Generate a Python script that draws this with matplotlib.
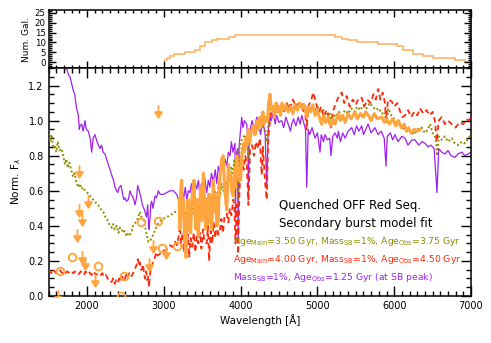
import matplotlib
matplotlib.use("Agg")
import matplotlib.pyplot as plt
from matplotlib.path import Path
from matplotlib.ticker import MultipleLocator

# ---------------- data ----------------
hist_edges = [3000, 3043, 3087, 3130, 3281, 3411, 3476, 3541, 3628, 3693, 3844, 3931,
              5229, 5316, 5403, 5511, 5792, 6030, 6117, 6247, 6377, 6506, 6788, 6918, 7000]
hist_counts = [1, 2, 3, 4, 5, 6, 8, 10, 11, 12, 13, 14, 13, 12, 11, 10, 9, 8, 6, 4, 3, 2, 1, 0]

purple_wl = [1500, 1510, 1530, 1600, 1680, 1713, 1740, 1760, 1779, 1800, 1822, 1840, 1860, 1887,
             1900, 1910, 1931, 1950, 1974, 1990, 2017, 2040, 2061, 2080, 2104, 2130, 2150, 2169,
             2190, 2210, 2234, 2255, 2278, 2300, 2321, 2345, 2365, 2385, 2400, 2420, 2443, 2465,
             2480, 2495, 2515, 2538, 2560, 2575, 2590, 2610, 2625, 2645, 2660, 2680, 2703, 2720,
             2740, 2755, 2775, 2790, 2800, 2807, 2820, 2830, 2842, 2860, 2885, 2905, 2929, 2950,
             2972, 3000, 3038, 3081, 3124, 3168, 3200, 3220, 3240, 3260, 3280, 3300, 3320, 3341,
             3360, 3380, 3400, 3428, 3450, 3470, 3490, 3510, 3530, 3559, 3580, 3600, 3620, 3645,
             3670, 3690, 3710, 3732, 3750, 3775, 3797, 3820, 3840, 3862, 3880, 3900, 3927, 3934,
             3940, 3960, 3968, 3980, 4000, 4014, 4030, 4050, 4079, 4095, 4102, 4110, 4130, 4150,
             4180, 4210, 4240, 4260, 4280, 4297, 4320, 4340, 4360, 4383, 4400, 4426, 4450, 4470,
             4500, 4535, 4560, 4590, 4620, 4650, 4665, 4690, 4720, 4750, 4775, 4796, 4820, 4845,
             4861, 4880, 4900, 4930, 4969, 5000, 5034, 5050, 5080, 5099, 5130, 5160, 5177, 5200,
             5230, 5260, 5273, 5300, 5330, 5360, 5400, 5447, 5480, 5510, 5540, 5577, 5600, 5630,
             5660, 5700, 5750, 5790, 5830, 5870, 5893, 5910, 5950, 5980, 6010, 6050, 6100, 6140,
             6180, 6230, 6271, 6320, 6360, 6401, 6440, 6480, 6520, 6557, 6580, 6620, 6661, 6700,
             6740, 6791, 6830, 6879, 6920, 6960, 7000]
purple_flux = [1.22, 1.30, 1.40, 1.45, 1.38, 1.30, 1.29, 1.26, 1.25, 1.21, 1.17, 1.15, 1.08, 1.03,
               0.95, 0.97, 0.98, 0.94, 1.00, 0.95, 0.94, 0.90, 0.82, 0.90, 0.92, 0.88, 0.86, 0.84,
               0.86, 0.82, 0.81, 0.78, 0.75, 0.72, 0.69, 0.66, 0.62, 0.60, 0.59, 0.62, 0.63, 0.58,
               0.55, 0.56, 0.54, 0.55, 0.60, 0.58, 0.57, 0.55, 0.52, 0.56, 0.63, 0.60, 0.56, 0.52,
               0.50, 0.48, 0.45, 0.52, 0.42, 0.38, 0.44, 0.52, 0.54, 0.50, 0.57, 0.56, 0.60, 0.58,
               0.58, 0.58, 0.59, 0.60, 0.60, 0.58, 0.54, 0.52, 0.60, 0.56, 0.62, 0.55, 0.60, 0.59,
               0.64, 0.58, 0.65, 0.61, 0.66, 0.58, 0.64, 0.60, 0.68, 0.59, 0.66, 0.62, 0.70, 0.65,
               0.72, 0.64, 0.74, 0.70, 0.77, 0.72, 0.78, 0.74, 0.82, 0.80, 0.88, 0.82, 0.87, 0.45,
               0.80, 0.84, 0.32, 0.85, 0.95, 1.02, 0.96, 1.00, 0.98, 0.90, 0.55, 0.90, 0.96, 1.00,
               0.95, 1.02, 0.97, 0.92, 0.98, 0.98, 0.92, 0.62, 0.95, 1.02, 1.00, 1.05, 0.98, 1.03,
               0.99, 1.00, 0.96, 1.02, 0.98, 0.94, 0.98, 1.01, 0.97, 1.02, 0.98, 1.03, 0.99, 0.95,
               0.62, 0.95, 0.92, 0.96, 0.90, 0.93, 0.82, 0.92, 0.88, 0.92, 0.89, 0.90, 0.80, 0.91,
               0.93, 0.90, 0.94, 0.88, 0.93, 0.90, 0.94, 0.96, 0.92, 0.97, 0.94, 0.97, 0.92, 0.95,
               0.98, 0.93, 0.96, 0.92, 0.94, 0.90, 0.74, 0.91, 0.93, 0.89, 0.92, 0.88, 0.91, 0.90,
               0.86, 0.89, 0.89, 0.86, 0.88, 0.87, 0.85, 0.86, 0.84, 0.59, 0.84, 0.82, 0.81, 0.83,
               0.80, 0.79, 0.81, 0.82, 0.80, 0.81, 0.82]

olive_wl = [1500, 1520, 1540, 1560, 1583, 1600, 1620, 1640, 1670, 1690, 1713, 1730, 1750, 1770,
            1800, 1820, 1840, 1860, 1887, 1910, 1930, 1950, 1974, 2000, 2020, 2040, 2061, 2080,
            2100, 2120, 2147, 2170, 2190, 2212, 2240, 2260, 2278, 2300, 2321, 2340, 2360, 2386,
            2410, 2430, 2452, 2470, 2490, 2517, 2540, 2560, 2582, 2600, 2620, 2634, 2660, 2690,
            2710, 2734, 2755, 2777, 2800, 2820, 2840, 2864, 2890, 2910, 2929, 2960, 2994, 3040,
            3081, 3120, 3146, 3180, 3211, 3230, 3250, 3270, 3290, 3310, 3330, 3350, 3370, 3390,
            3410, 3430, 3450, 3470, 3490, 3515, 3540, 3560, 3580, 3600, 3620, 3645, 3670, 3690,
            3710, 3732, 3750, 3775, 3800, 3819, 3840, 3862, 3880, 3900, 3920, 3934, 3950, 3968,
            3985, 4000, 4030, 4057, 4080, 4102, 4120, 4150, 4180, 4210, 4240, 4270, 4300, 4320,
            4340, 4360, 4383, 4410, 4440, 4470, 4500, 4530, 4560, 4600, 4640, 4680, 4720, 4760,
            4800, 4840, 4861, 4880, 4920, 4960, 5000, 5040, 5080, 5120, 5160, 5177, 5200, 5240,
            5280, 5320, 5360, 5400, 5440, 5480, 5520, 5560, 5600, 5640, 5680, 5720, 5760, 5800,
            5840, 5880, 5893, 5923, 5960, 6000, 6040, 6062, 6100, 6140, 6184, 6220, 6260, 6300,
            6358, 6400, 6440, 6466, 6500, 6540, 6560, 6580, 6620, 6660, 6700, 6749, 6790, 6835,
            6880, 6920, 6965, 7000]
olive_flux = [0.95, 0.88, 0.92, 0.84, 0.86, 0.82, 0.88, 0.83, 0.84, 0.80, 0.75, 0.78, 0.73, 0.76,
              0.71, 0.68, 0.70, 0.65, 0.62, 0.64, 0.61, 0.62, 0.60, 0.59, 0.58, 0.57, 0.56, 0.55,
              0.54, 0.53, 0.52, 0.50, 0.49, 0.48, 0.45, 0.44, 0.42, 0.40, 0.39, 0.41, 0.38, 0.40,
              0.36, 0.39, 0.38, 0.36, 0.37, 0.34, 0.36, 0.35, 0.37, 0.40, 0.41, 0.42, 0.44, 0.48,
              0.45, 0.44, 0.40, 0.35, 0.31, 0.31, 0.33, 0.35, 0.38, 0.40, 0.415, 0.43, 0.44, 0.45,
              0.46, 0.47, 0.48, 0.47, 0.47, 0.44, 0.52, 0.46, 0.48, 0.53, 0.45, 0.51, 0.55, 0.47,
              0.52, 0.46, 0.53, 0.49, 0.55, 0.49, 0.56, 0.50, 0.58, 0.52, 0.57, 0.54, 0.60, 0.55,
              0.62, 0.57, 0.64, 0.60, 0.66, 0.62, 0.70, 0.66, 0.74, 0.70, 0.78, 0.60, 0.81, 0.55,
              0.84, 0.88, 0.90, 0.92, 0.90, 0.78, 0.90, 0.94, 0.92, 0.97, 0.95, 0.99, 0.96, 0.94,
              0.88, 0.98, 1.05, 1.08, 1.06, 1.09, 1.07, 1.05, 1.08, 1.06, 1.09, 1.07, 1.10, 1.08,
              1.10, 1.07, 1.00, 1.06, 1.08, 1.06, 1.08, 1.05, 1.06, 1.03, 1.05, 1.00, 1.04, 1.02,
              1.05, 1.03, 1.06, 1.04, 1.07, 1.05, 1.08, 1.06, 1.09, 1.07, 1.10, 1.08, 1.06, 1.07,
              1.04, 1.05, 0.98, 1.07, 1.03, 1.01, 0.99, 1.00, 0.96, 0.95, 0.93, 0.94, 0.92, 0.95,
              0.96, 0.93, 0.95, 0.98, 0.93, 0.90, 0.80, 0.91, 0.89, 0.91, 0.88, 0.90, 0.87, 0.86,
              0.88, 0.87, 0.90, 0.92]

red_wl = [1500, 1520, 1540, 1560, 1580, 1600, 1620, 1640, 1660, 1680, 1700, 1720, 1740, 1760,
          1780, 1800, 1820, 1840, 1860, 1880, 1900, 1920, 1940, 1960, 1980, 2000, 2020, 2040,
          2060, 2080, 2100, 2120, 2140, 2160, 2180, 2200, 2220, 2240, 2260, 2280, 2300, 2321,
          2340, 2360, 2380, 2400, 2420, 2440, 2460, 2480, 2495, 2510, 2530, 2550, 2570, 2590,
          2610, 2630, 2647, 2660, 2668, 2680, 2690, 2700, 2712, 2730, 2745, 2755, 2770, 2785,
          2800, 2807, 2820, 2832, 2842, 2860, 2885, 2900, 2920, 2950, 2980, 3016, 3050, 3081,
          3110, 3146, 3170, 3190, 3211, 3225, 3245, 3260, 3280, 3298, 3315, 3330, 3350, 3370,
          3390, 3410, 3430, 3450, 3471, 3490, 3510, 3530, 3559, 3575, 3590, 3610, 3630, 3650,
          3670, 3690, 3710, 3732, 3750, 3770, 3790, 3819, 3840, 3860, 3880, 3905, 3920, 3934,
          3950, 3968, 3985, 4000, 4020, 4040, 4060, 4080, 4102, 4123, 4150, 4175, 4200, 4230,
          4250, 4275, 4290, 4318, 4340, 4360, 4383, 4410, 4440, 4470, 4500, 4530, 4560, 4600,
          4640, 4680, 4720, 4760, 4800, 4840, 4861, 4880, 4920, 4947, 4980, 5020, 5050, 5080,
          5120, 5160, 5177, 5200, 5240, 5280, 5316, 5350, 5380, 5420, 5460, 5500, 5540, 5577,
          5610, 5650, 5690, 5730, 5760, 5793, 5820, 5850, 5880, 5893, 5920, 5967, 6000, 6040,
          6080, 6110, 6140, 6180, 6220, 6260, 6300, 6336, 6380, 6420, 6460, 6500, 6530, 6553,
          6580, 6618, 6660, 6700, 6749, 6800, 6850, 6900, 6940, 6970, 7000]
red_flux = [0.15, 0.14, 0.13, 0.15, 0.14, 0.13, 0.14, 0.15, 0.14, 0.13, 0.14, 0.13, 0.14, 0.135,
            0.13, 0.14, 0.13, 0.14, 0.13, 0.12, 0.13, 0.14, 0.13, 0.12, 0.14, 0.13, 0.14, 0.13,
            0.12, 0.14, 0.13, 0.12, 0.13, 0.12, 0.12, 0.13, 0.11, 0.12, 0.11, 0.09, 0.08, 0.08,
            0.10, 0.07, 0.09, 0.075, 0.10, 0.08, 0.11, 0.09, 0.10, 0.12, 0.10, 0.13, 0.11, 0.12,
            0.14, 0.16, 0.18, 0.21, 0.20, 0.17, 0.19, 0.15, 0.15, 0.18, 0.12, 0.10, 0.14, 0.09,
            0.11, 0.05, 0.12, 0.16, 0.16, 0.20, 0.22, 0.25, 0.23, 0.24, 0.26, 0.26, 0.27, 0.29,
            0.28, 0.31, 0.29, 0.33, 0.40, 0.30, 0.36, 0.25, 0.32, 0.28, 0.35, 0.22, 0.33, 0.28,
            0.36, 0.25, 0.34, 0.30, 0.36, 0.27, 0.38, 0.31, 0.30, 0.40, 0.20, 0.37, 0.30, 0.42,
            0.33, 0.41, 0.35, 0.38, 0.44, 0.36, 0.45, 0.47, 0.42, 0.50, 0.46, 0.55, 0.50, 0.30,
            0.52, 0.24, 0.60, 0.70, 0.78, 0.72, 0.80, 0.76, 0.52, 0.83, 0.86, 0.80, 0.88, 0.84,
            0.90, 0.69, 0.85, 0.65, 0.55, 0.90, 1.00, 1.08, 1.03, 1.11, 1.05, 1.09, 1.04, 1.10,
            1.06, 1.12, 1.08, 1.10, 1.07, 1.04, 0.95, 1.08, 1.12, 1.16, 1.10, 1.05, 1.08, 1.02,
            1.06, 1.00, 0.95, 1.05, 1.10, 1.14, 1.16, 1.10, 1.14, 1.08, 1.12, 1.09, 1.13, 1.13,
            1.08, 1.12, 1.10, 1.15, 1.12, 1.18, 1.12, 1.16, 1.10, 1.00, 1.12, 1.11, 1.08, 1.10,
            1.05, 1.02, 1.03, 1.06, 1.02, 1.05, 1.03, 1.07, 1.04, 1.06, 1.03, 1.05, 1.00, 0.88,
            1.00, 1.02, 0.98, 1.00, 0.98, 0.96, 0.99, 0.98, 1.01, 1.00, 1.02]

obs_wl = [3200, 3210, 3222, 3233, 3245, 3258, 3270, 3289, 3300, 3315, 3330, 3350, 3365, 3380,
          3393, 3405, 3420, 3435, 3449, 3465, 3480, 3493, 3505, 3515, 3530, 3545, 3560, 3580,
          3595, 3610, 3624, 3645, 3660, 3675, 3690, 3710, 3725, 3740, 3754, 3775, 3790, 3805,
          3819, 3830, 3840, 3855, 3870, 3885, 3905, 3920, 3935, 3949, 3965, 3980, 4001, 4015,
          4036, 4050, 4070, 4085, 4100, 4120, 4140, 4166, 4190, 4210, 4230, 4250, 4270, 4290,
          4310, 4330, 4350, 4365, 4383, 4400, 4420, 4440, 4460, 4480, 4500, 4520, 4540, 4560,
          4590, 4620, 4650, 4680, 4710, 4740, 4770, 4800, 4830, 4860, 4880, 4910, 4940, 4970,
          5000, 5030, 5056, 5080, 5110, 5140, 5170, 5200, 5230, 5273, 5300, 5330, 5360, 5400,
          5440, 5490, 5520, 5560, 5600, 5630, 5663, 5700, 5740, 5780, 5837, 5870, 5900, 5940,
          5980, 6020, 6053, 6090, 6130, 6160, 6184, 6220, 6260, 6300, 6340]
obs_flux = [0.55, 0.38, 0.62, 0.66, 0.45, 0.55, 0.32, 0.22, 0.40, 0.55, 0.38, 0.36, 0.55, 0.62,
            0.66, 0.50, 0.38, 0.55, 0.34, 0.50, 0.62, 0.43, 0.60, 0.70, 0.50, 0.38, 0.55, 0.41,
            0.58, 0.48, 0.38, 0.66, 0.48, 0.58, 0.40, 0.43, 0.65, 0.72, 0.78, 0.80, 0.62, 0.55,
            0.49, 0.60, 0.75, 0.68, 0.70, 0.60, 0.57, 0.72, 0.62, 0.80, 0.75, 0.66, 0.66, 0.80,
            0.87, 0.82, 0.90, 0.86, 0.95, 0.88, 0.94, 0.97, 0.92, 1.00, 0.95, 1.02, 0.97, 1.05,
            0.98, 1.02, 1.00, 1.10, 1.15, 1.06, 1.08, 1.02, 1.10, 1.05, 1.08, 1.03, 1.10, 1.06,
            1.09, 1.05, 1.08, 1.04, 1.09, 1.06, 1.10, 1.07, 1.09, 1.02, 1.08, 1.05, 1.09, 1.03,
            1.06, 1.01, 0.98, 1.03, 0.99, 1.02, 0.97, 1.01, 0.98, 1.04, 1.00, 1.03, 0.99, 1.04,
            1.01, 1.05, 1.01, 1.04, 1.02, 1.05, 1.03, 1.00, 1.04, 1.01, 1.02, 0.99, 1.01, 0.98,
            1.01, 0.97, 1.00, 0.96, 0.98, 0.94, 0.96, 0.93, 0.95, 0.94, 0.95]

circ_wl = [1648, 1800, 2147, 2482, 2443, 2707, 2925, 2981, 3168]
circ_flux = [0.145, 0.22, 0.17, 0.115, 0.0, 0.42, 0.425, 0.275, 0.287]

lim_wl = [2920, 1900, 2009, 1900, 1940, 1870, 1940, 1974, 2108, 2863, 2811, 3029, 1626]
lim_flux = [1.053, 0.71, 0.54, 0.49, 0.44, 0.35, 0.22, 0.19, 0.09, 0.285, 0.18, 0.253, 0.0]

x_ticks = [2000, 3000, 4000, 5000, 6000, 7000]
y_ticks = [0.0, 0.2, 0.4, 0.6, 0.8, 1.0, 1.2]
top_y_ticks = [0, 5, 10, 15, 20, 25]

title_lines = ["Quenched OFF Red Seq.", "Secondary burst model fit"]
legend_texts = [r"Age$_{\rm Main}$=3.50 Gyr, Mass$_{\rm SB}$=1%, Age$_{\rm Obs}$=3.75 Gyr",
                r"Age$_{\rm Main}$=4.00 Gyr, Mass$_{\rm SB}$=1%, Age$_{\rm Obs}$=4.50 Gyr",
                r"Mass$_{\rm SB}$=1%, Age$_{\rm Obs}$=1.25 Gyr (at SB peak)"]

# ---------------- style ----------------
C_ORANGE = "#FFA53F"
C_HIST = "#FFB566"
C_RED = "#FF2A0A"
C_OLIVE = "#8E8E00"
C_PURPLE = "#A020F0"

plt.rcParams["font.family"] = ["DejaVu Sans"]
plt.rcParams["mathtext.fontset"] = "dejavusans"

fig = plt.figure(figsize=(4.91, 3.43), dpi=100)
L, R = 48.6 / 491, 471 / 491
ax_top = fig.add_axes([L, 1 - 68 / 343, R - L, (68 - 10) / 343])
ax = fig.add_axes([L, 1 - 296 / 343, R - L, (296 - 68) / 343])

for a in (ax, ax_top):
    for s in a.spines.values():
        s.set_linewidth(1.1)
    a.set_xlim(1500, 7000)
    a.xaxis.set_minor_locator(MultipleLocator(100))
    a.tick_params(which="both", direction="in", top=True, right=True, width=1.0,
                  labelsize=7)

# top panel
ax_top.stairs(hist_counts, hist_edges, baseline=None, color=C_HIST, lw=1.2)
ax_top.set_ylim(-3, 26.5)
ax_top.set_yticks(top_y_ticks)
ax_top.yaxis.set_minor_locator(MultipleLocator(1))
ax_top.set_xticks(x_ticks)
ax_top.tick_params(labelbottom=False)
ax_top.tick_params(axis="y", labelsize=6.2, pad=2)
ax_top.tick_params(which="major", length=5)
ax_top.tick_params(which="minor", length=2.5)
ax_top.set_ylabel("Num. Gal.", fontsize=6.5, labelpad=3)

# main panel
ax.plot(purple_wl, purple_flux, color=C_PURPLE, lw=0.9, zorder=2)
ax.plot(olive_wl, olive_flux, color=C_OLIVE, lw=1.4, ls=(0, (1, 1.2)), zorder=3)
ax.plot(red_wl, red_flux, color=C_RED, lw=1.3, ls=(0, (3, 2)), zorder=3)
ax.plot(obs_wl, obs_flux, color=C_ORANGE, lw=2.2, zorder=4)

ax.plot(circ_wl, circ_flux, ls="none", marker="o", ms=5.5, mfc="none", mec=C_ORANGE,
        mew=1.4, zorder=5, clip_on=True)
arrow = Path([(0, 1.0), (0, -0.3), (-0.55, -0.1), (0.55, -0.1), (0, -1.0), (-0.55, -0.1)],
             [Path.MOVETO, Path.LINETO, Path.MOVETO, Path.LINETO, Path.LINETO, Path.CLOSEPOLY])
ax.plot(lim_wl, lim_flux, ls="none", marker=arrow, ms=9, mfc=C_ORANGE, mec=C_ORANGE,
        mew=1.3, zorder=5)

ax.set_ylim(0, 1.3)
ax.set_xticks(x_ticks)
ax.set_yticks(y_ticks)
ax.set_yticklabels([f"{v:.1f}" for v in y_ticks])
ax.yaxis.set_minor_locator(MultipleLocator(0.05))
ax.tick_params(which="major", length=7)
ax.tick_params(which="minor", length=3.5)
ax.set_xlabel("Wavelength [Å]", fontsize=7.5, labelpad=2)
ax.set_ylabel(r"Norm. F$_\lambda$", fontsize=7.5, labelpad=4)

ax.text(0.546, 0.399, title_lines[0], transform=ax.transAxes, fontsize=8.5,
        ha="left", va="center", color="black")
ax.text(0.546, 0.32, title_lines[1], transform=ax.transAxes, fontsize=8.5,
        ha="left", va="center", color="black")
for t, c, yy in zip(legend_texts, [C_OLIVE, C_RED, C_PURPLE], [0.237, 0.158, 0.079]):
    ax.text(0.437, yy, t, transform=ax.transAxes, fontsize=6.7, ha="left", va="center",
            color=c)

fig.savefig("out.png", dpi=100)
